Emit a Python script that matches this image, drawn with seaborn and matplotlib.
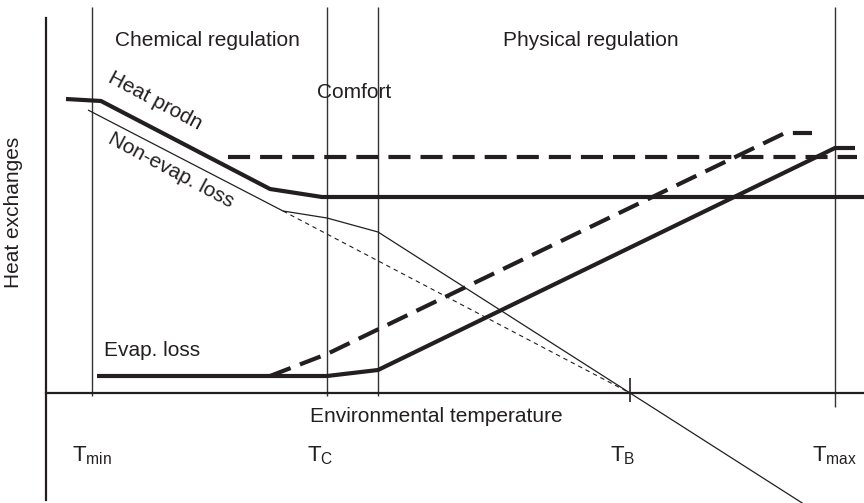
import matplotlib
matplotlib.use("Agg")
import matplotlib.pyplot as plt
import matplotlib.transforms as mtransforms
import seaborn as sns

# Schematic heat balance of an endotherm versus environmental temperature
# (arbitrary units: temperature on x, heat flow on y)

# Characteristic temperatures
t_min = 4.6
t_c = 28.1
t_comfort_hi = 33.2
t_b = 58.4
t_max = 78.9

tick_pos = [t_min, t_c, t_b, t_max]
tick_labels = [r"$\mathregular{T_{min}}$", r"$\mathregular{T_{C}}$",
               r"$\mathregular{T_{B}}$", r"$\mathregular{T_{max}}$"]
# horizontal nudge of each tick label, in points
tick_nudge = [0, -5, -5, 0]

# Heat production
prod_t = [2.0, 5.5, 22.4, 27.6, 81.8]
prod_h = [29.4, 29.2, 20.4, 19.6, 19.6]

# Raised heat production level (dashed)
prod_hi_t = [18.2, 81.1]
prod_hi_h = [23.6, 23.6]

# Non-evaporative heat loss
nonevap_t = [4.2, 23.7, 28.1, 33.2, 58.4, 76.4]
nonevap_h = [28.3, 18.2, 17.5, 16.1, 0.0, -11.5]

# Extrapolated non-evaporative loss (thin dashed)
nonevap_ext_t = [23.7, 58.4]
nonevap_ext_h = [18.2, 0.0]

# Evaporative heat loss
evap_t = [5.1, 28.1, 33.2, 78.9, 80.9]
evap_h = [1.7, 1.7, 2.3, 24.5, 24.5]

# Evaporative heat loss, alternative (dashed)
evap_alt_t = [22.4, 28.1, 73.9, 76.6]
evap_alt_h = [1.7, 3.9, 26.0, 26.0]

sns.set_theme(style="white")
plt.rcParams["font.family"] = ["Liberation Sans", "DejaVu Sans"]
plt.rcParams["mathtext.fontset"] = "custom"
plt.rcParams["mathtext.rm"] = "Liberation Sans"
plt.rcParams["mathtext.default"] = "regular"
plt.rcParams["lines.solid_capstyle"] = "butt"
plt.rcParams["lines.dash_capstyle"] = "butt"

ink = "#231f20"

fig = plt.figure(figsize=(8.64, 5.03), dpi=100)
ax = fig.add_axes([0, 0, 1, 1])
ax.set_xlim(-4.6, 81.8)
ax.set_ylim(-11.0, 39.3)

# Axes drawn as spines through the origin
for side in ("top", "right"):
    ax.spines[side].set_visible(False)
ax.spines["left"].set_position(("data", 0))
ax.spines["bottom"].set_position(("data", 0))
ax.spines["left"].set_bounds(-10.7, 37.5)
ax.spines["bottom"].set_bounds(0, 81.8)
for side in ("left", "bottom"):
    ax.spines[side].set_linewidth(1.6)
    ax.spines[side].set_color(ink)

ax.set_yticks([])
ax.set_xticks(tick_pos)
ax.set_xticklabels(tick_labels)
ax.tick_params(axis="x", length=0, pad=37, labelsize=16, labelcolor=ink)
for lab, dx in zip(ax.get_xticklabels(), tick_nudge):
    lab.set_transform(lab.get_transform() +
                      mtransforms.ScaledTranslation(dx / 72, 0, fig.dpi_scale_trans))

# Zone boundaries
ax.vlines([t_min, t_c, t_comfort_hi], -0.3, 38.6, color="#333333", lw=1.0, clip_on=False)
ax.vlines([t_max], -1.4, 38.6, color="#333333", lw=1.0, clip_on=False)
ax.vlines([t_b], -0.9, 1.5, color=ink, lw=1.2)

thick = 3.0
sns.lineplot(x=prod_t, y=prod_h, sort=False, estimator=None, ax=ax,
             color=ink, lw=thick)
sns.lineplot(x=prod_hi_t, y=prod_hi_h, sort=False, estimator=None, ax=ax,
             color=ink, lw=thick, linestyle=(0, (5.3, 2.4)))
sns.lineplot(x=nonevap_t, y=nonevap_h, sort=False, estimator=None, ax=ax,
             color=ink, lw=0.9)
sns.lineplot(x=nonevap_ext_t, y=nonevap_ext_h, sort=False, estimator=None, ax=ax,
             color=ink, lw=0.8, linestyle=(0, (4, 3.5)))
sns.lineplot(x=evap_t, y=evap_h, sort=False, estimator=None, ax=ax,
             color=ink, lw=thick)
sns.lineplot(x=evap_alt_t, y=evap_alt_h, sort=False, estimator=None, ax=ax,
             color=ink, lw=thick, linestyle=(0, (5.3, 2.4)))

fs = 15
ax.text(16.1, 35.3, "Chemical regulation", ha="center", va="center", fontsize=fs, color=ink)
ax.text(54.5, 35.3, "Physical regulation", ha="center", va="center", fontsize=fs, color=ink)
ax.text(30.8, 30.0, "Comfort", ha="center", va="center", fontsize=fs, color=ink)
ax.text(10.9, 29.2, "Heat prodn", ha="center", va="center", fontsize=fs, color=ink,
        rotation=-28, rotation_mode="anchor")
ax.text(12.5, 22.3, "Non-evap. loss", ha="center", va="center", fontsize=fs, color=ink,
        rotation=-28, rotation_mode="anchor")
ax.text(10.6, 4.2, "Evap. loss", ha="center", va="center", fontsize=fs, color=ink)
ax.text(39.0, -2.4, "Environmental temperature", ha="center", va="center",
        fontsize=fs, color=ink)
ax.text(-3.2, 18.1, "Heat exchanges", ha="center", va="center", rotation=90,
        fontsize=fs, color=ink)

fig.savefig("out.png", dpi=100)
